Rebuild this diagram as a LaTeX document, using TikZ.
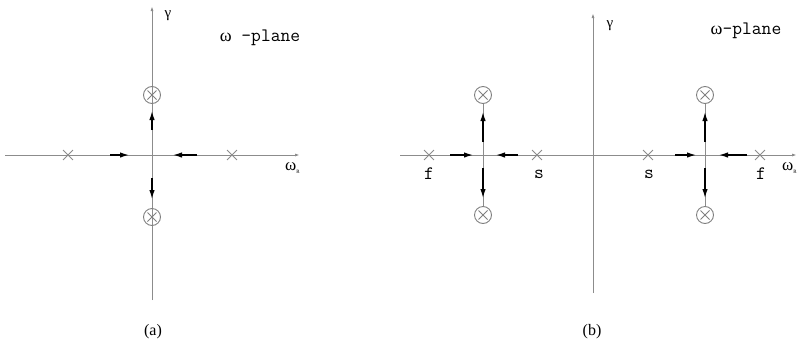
\documentclass[tikz,border=0pt]{standalone}
\usepackage{fontspec}
\setmainfont{Liberation Serif}
\newfontfamily\greekf{Liberation Serif}
\usetikzlibrary{arrows.meta,shapes.misc}
\tikzset{
  ax/.style={draw=black!45, line width=1pt},
  axtip/.style={ax,-{Latex[length=5pt,width=3pt]}},
  crs/.style={cross out, draw=black!45, minimum size=9pt, inner sep=0pt, line width=0.9pt},
  pole/.style={circle, draw=black!50, minimum size=17pt, inner sep=0pt, line width=0.9pt,
    path picture={\draw[black!50,line width=0.8pt]
      ([shift={(-4.5pt,-4.5pt)}]path picture bounding box.center) -- ([shift={(4.5pt,4.5pt)}]path picture bounding box.center)
      ([shift={(-4.5pt,4.5pt)}]path picture bounding box.center) -- ([shift={(4.5pt,-4.5pt)}]path picture bounding box.center);}},
  mv/.style={black, line width=1.3pt, -{Latex[length=9pt,width=5.5pt]}},
  lbl/.style={font=\ttfamily\fontsize{19}{21}\selectfont, inner sep=0pt},
  glab/.style={font=\fontsize{15}{17}\selectfont, inner sep=0pt},
  wlab/.style={font=\fontsize{17}{19}\selectfont, inner sep=0pt},
  captxt/.style={font=\fontsize{16}{18}\selectfont, inner sep=0pt}
}
\begin{document}
\begin{tikzpicture}[x=1pt,y=-1pt]
\useasboundingbox (0,0) rectangle (800,354);
% ---------- (a) ----------
\coordinate (aB) at (152,300);
\coordinate (aT) at (152,6);
\coordinate (aL) at (5,155);
\coordinate (aR) at (300,155);
\draw[axtip] (aB) -- (aT);
\draw[axtip] (aL) -- (aR);
\node[crs] (ax1) at (68,155) {};
\node[crs] (ax2) at (232,155) {};
\node[pole] (ap1) at (152,95) {};
\node[pole] (ap2) at (152,217) {};
\coordinate (am1s) at (110,155); \coordinate (am1e) at (129,155);
\coordinate (am2s) at (197,155); \coordinate (am2e) at (173,155);
\coordinate (am3s) at (152,130); \coordinate (am3e) at (152,111);
\coordinate (am4s) at (152,178); \coordinate (am4e) at (152,199);
\draw[mv] (am1s) -- (am1e);
\draw[mv] (am2s) -- (am2e);
\draw[mv] (am3s) -- (am3e);
\draw[mv] (am4s) -- (am4e);
\node[glab] (agam) at (168,16) {γ};
\node[lbl] (apl) at (260,38) {{\greekf\fontsize{18}{20}\selectfont ω} -plane};
\node[wlab, anchor=west] (awr) at (285,168) {ω\textsubscript{\tiny R}};
\node[captxt] (acap) at (153,332) {(a)};
% ---------- (b) ----------
\coordinate (bB) at (593,293);
\coordinate (bT) at (593,13);
\coordinate (bL) at (400,155);
\coordinate (bR) at (797,155);
\draw[axtip] (bB) -- (bT);
\draw[axtip] (bL) -- (bR);
\node[crs] (bx1) at (429,155) {};
\node[crs] (bx2) at (537,155) {};
\node[crs] (bx3) at (648,155) {};
\node[crs] (bx4) at (760,155) {};
\node[pole] (bp1) at (483,95) {};
\node[pole] (bp2) at (483,215) {};
\node[pole] (bp3) at (705,95) {};
\node[pole] (bp4) at (705,215) {};
\draw[ax] (bp1) -- (bp2);
\draw[ax] (bp3) -- (bp4);
\coordinate (bm1s) at (450,155); \coordinate (bm1e) at (473,155);
\coordinate (bm2s) at (518,155); \coordinate (bm2e) at (496,155);
\coordinate (bm3s) at (675,155); \coordinate (bm3e) at (696,155);
\coordinate (bm4s) at (747,155); \coordinate (bm4e) at (719,155);
\coordinate (bm5s) at (483,142); \coordinate (bm5e) at (483,112);
\coordinate (bm6s) at (483,168); \coordinate (bm6e) at (483,198);
\coordinate (bm7s) at (705,142); \coordinate (bm7e) at (705,112);
\coordinate (bm8s) at (705,168); \coordinate (bm8e) at (705,198);
\foreach \i in {1,...,8} {\draw[mv] (bm\i s) -- (bm\i e);}
\node[lbl] (bf1) at (429,174) {f};
\node[lbl] (bs1) at (539,174) {s};
\node[lbl] (bs2) at (649,174) {s};
\node[lbl] (bf2) at (761,174) {f};
\node[glab] (bgam) at (610,26) {γ};
\node[lbl] (bpl) at (746,31) {{\greekf\fontsize{18}{20}\selectfont ω}-plane};
\node[wlab, anchor=west] (bwr) at (782,168) {ω\textsubscript{\tiny R}};
\node[captxt] (bcap) at (592,332) {(b)};
\end{tikzpicture}
\end{document}
